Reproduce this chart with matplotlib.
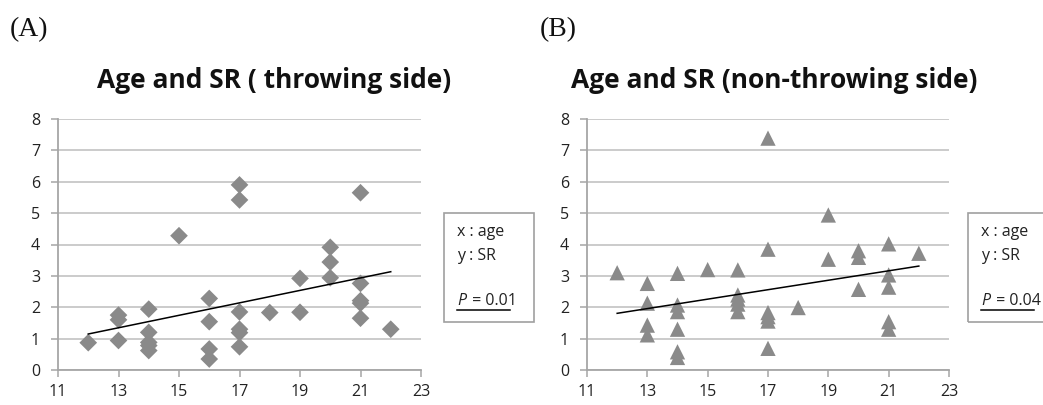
import matplotlib
matplotlib.use("Agg")
import matplotlib.pyplot as plt
import numpy as np
from matplotlib.patches import Rectangle
from matplotlib.lines import Line2D

W, H = 1043, 405

# (A) throwing side
age_a = [12, 13, 13, 13, 14, 14, 14, 14, 14, 15, 16, 16, 16, 16,
         17, 17, 17, 17, 17, 17, 18, 19, 19, 20, 20, 20, 21, 21, 21, 21, 21, 22]
sr_a = [0.87, 1.75, 1.6, 0.94, 1.94, 1.2, 0.88, 0.78, 0.62, 4.28, 2.28, 1.54, 0.67, 0.35,
        5.9, 5.42, 1.85, 1.3, 1.19, 0.74, 1.83, 2.92, 1.84, 3.91, 3.44, 2.94,
        5.65, 2.76, 2.21, 2.13, 1.65, 1.3]

# (B) non-throwing side
age_b = [12, 13, 13, 13, 13, 14, 14, 14, 14, 14, 14, 15, 16, 16, 16, 16, 16,
         17, 17, 17, 17, 17, 17, 18, 19, 19, 20, 20, 20, 21, 21, 21, 21, 21, 22]
sr_b = [3.1, 2.76, 2.13, 1.43, 1.12, 3.08, 2.07, 1.86, 1.3, 0.58, 0.4, 3.2,
        3.19, 2.39, 2.26, 2.1, 1.86, 7.39, 3.85, 1.83, 1.7, 1.56, 0.69, 1.99,
        4.94, 3.53, 3.8, 3.59, 2.57, 4.02, 3.03, 2.64, 1.54, 1.3, 3.72]

titles = ["Age and SR ( throwing side)", "Age and SR (non-throwing side)"]
panel_labels = ["(A)", "(B)"]
p_texts = ["P = 0.01", "P = 0.04"]

fig = plt.figure(figsize=(W / 100, H / 100), dpi=100)
grey = "#8a8a8a"
txtc = "#222222"
sans = "Open Sans"


def px(x0, y0, w, h):
    # pixel box (top-left origin) -> figure fraction
    return [x0 / W, 1 - (y0 + h) / H, w / W, h / H]


def panel(ax, x, y, marker, ms):
    ax.scatter(x, y, marker=marker, s=ms ** 2, color=grey, edgecolors="none", zorder=3)
    k, b = np.polyfit(x, y, 1)
    xs = np.array([min(x), max(x)])
    ax.plot(xs, k * xs + b, color="black", lw=1.1, zorder=4)
    ax.set_xlim(11, 23)
    ax.set_ylim(0, 8)
    ax.set_xticks(range(11, 24, 2))
    ax.set_yticks(range(0, 9))
    ax.yaxis.grid(True, color="#bdbdbd", lw=1.1)
    ax.set_axisbelow(True)
    for s in ["top", "right"]:
        ax.spines[s].set_visible(False)
    for s in ["left", "bottom"]:
        ax.spines[s].set_color("#a6a6a6")
        ax.spines[s].set_linewidth(1.3)
    ax.tick_params(colors="#a6a6a6", length=5, width=1.1, labelcolor=txtc,
                   labelsize=11.5)
    ax.tick_params(axis="y", pad=8)
    ax.tick_params(axis="x", pad=5)
    for lab in ax.get_xticklabels() + ax.get_yticklabels():
        lab.set_family(sans)


ax1 = fig.add_axes(px(58, 119, 363, 251))
panel(ax1, age_a, sr_a, "D", 9.0)
ax2 = fig.add_axes(px(587, 119, 362, 251))
panel(ax2, age_b, sr_b, "^", 11)

# titles (centred on the whole chart area, legend box included)
for cx, t in [(274, titles[0]), (774, titles[1])]:
    fig.text(cx / W, 1 - 88 / H, t, fontsize=19, fontweight="bold", family=sans,
             ha="center", va="baseline", color="#111111")

# panel letters
fig.text(10 / W, 1 - 30 / H, panel_labels[0], fontsize=20, family="Liberation Serif",
         va="center", ha="left", color="#111111")
fig.text(540 / W, 1 - 30 / H, panel_labels[1], fontsize=20, family="Liberation Serif",
         va="center", ha="left", color="#111111")

# info boxes
for bx, tx, pt in [(444, 457, p_texts[0]), (968, 981, p_texts[1])]:
    fig.patches.append(Rectangle((bx / W, 1 - 322 / H), 90 / W, 109 / H,
                                 transform=fig.transFigure, fill=False,
                                 edgecolor="#a0a0a0", lw=1.2))
    fig.text(tx / W, 1 - 232 / H, "x : age", fontsize=11.5, family=sans,
             va="center", color=txtc)
    fig.text(tx / W, 1 - 256 / H, "y : SR", fontsize=11.5, family=sans,
             va="center", color=txtc)
    fig.text(tx / W, 1 - 301 / H, pt[0], fontsize=11.5, family=sans, style="italic",
             va="center", color=txtc)
    fig.text((tx + 11) / W, 1 - 301 / H, pt[1:], fontsize=11.5, family=sans,
             va="center", color=txtc)
    fig.lines.append(Line2D([tx / W, (tx + 53) / W], [1 - 309.5 / H, 1 - 309.5 / H],
                            transform=fig.transFigure, color="black", lw=1.1))

fig.savefig("out.png", dpi=100)
